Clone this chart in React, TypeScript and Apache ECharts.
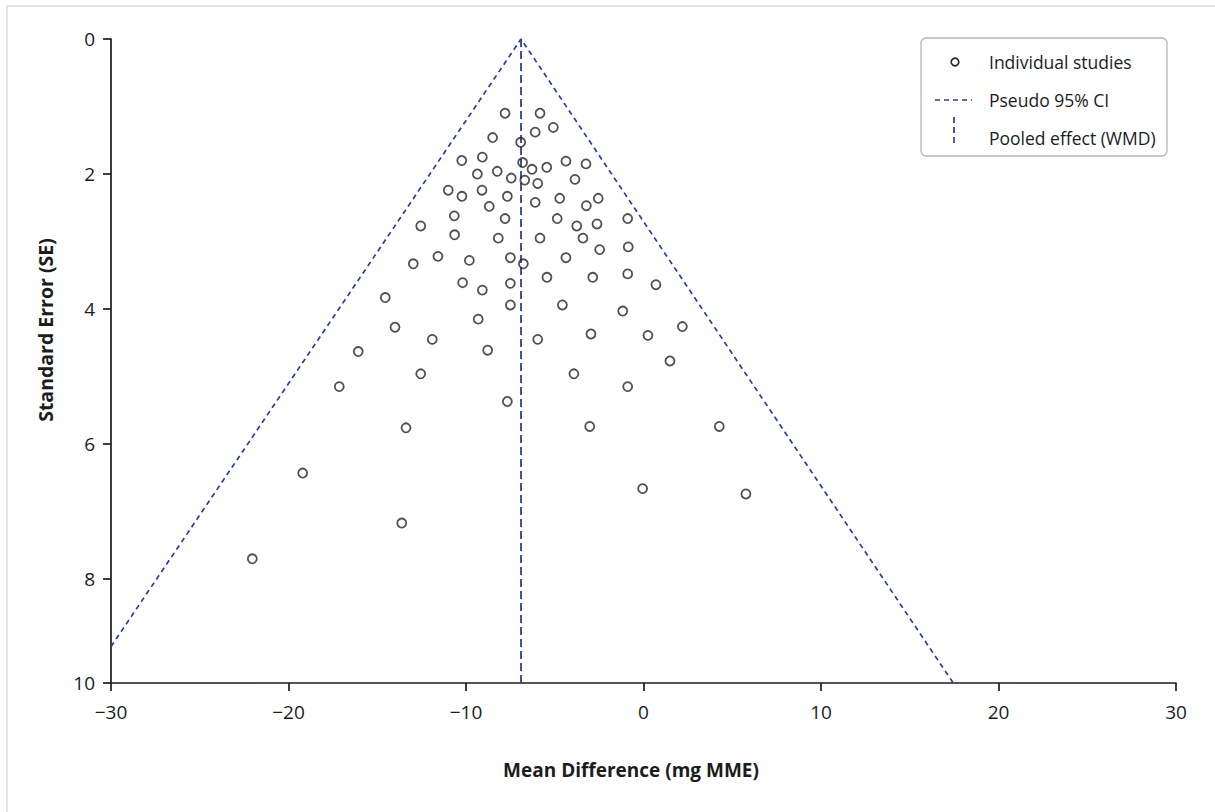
import React, { useEffect, useRef } from "react";
import * as echarts from "echarts";

// Individual studies: [mean difference (mg MME), standard error]
const studyMD = [
  -7.8, -5.83, -5.08, -6.1, -8.5, -6.92, -10.24, -9.08, -6.81, -6.28,
  -5.45, -4.37, -3.24, -9.36, -8.24, -7.45, -6.69, -5.96, -3.86, -11.0,
  -10.23, -9.1, -7.67, -6.1, -4.72, -2.55, -3.22, -8.69, -10.66, -7.8,
  -4.86, -3.76, -2.62, -0.89, -12.55, -10.64, -8.18, -5.83, -3.41, -2.47,
  -0.86, -12.97, -11.58, -9.81, -7.5, -6.77, -4.37, -5.44, -2.86, -0.89,
  0.7, -10.19, -9.08, -7.5, -14.55, -7.5, -4.57, -1.17, -14.0, -9.31,
  -2.96, 0.25, 2.19, -11.9, -5.96, -16.07, -8.78, 1.49, -3.92, -12.55,
  -17.14, -0.89, -7.67, -13.38, -3.03, 4.27, -19.2, -0.05, 5.77, -13.62,
  -22.04,
];
const studySE = [
  1.1, 1.1, 1.31, 1.38, 1.46, 1.53, 1.8, 1.75, 1.83, 1.93,
  1.9, 1.81, 1.85, 2.0, 1.96, 2.06, 2.09, 2.14, 2.08, 2.24,
  2.33, 2.24, 2.33, 2.42, 2.36, 2.36, 2.47, 2.48, 2.62, 2.66,
  2.66, 2.77, 2.74, 2.66, 2.77, 2.9, 2.95, 2.95, 2.95, 3.12,
  3.08, 3.33, 3.22, 3.28, 3.24, 3.33, 3.24, 3.53, 3.53, 3.48,
  3.64, 3.61, 3.72, 3.62, 3.83, 3.94, 3.94, 4.03, 4.27, 4.15,
  4.37, 4.39, 4.26, 4.45, 4.45, 4.63, 4.61, 4.77, 4.96, 4.96,
  5.15, 5.15, 5.37, 5.76, 5.74, 5.74, 6.43, 6.66, 6.74, 7.17,
  7.7,
];

// Pooled effect (WMD) and pseudo 95% CI funnel
const pooledMD = -6.9;
const ciLeft = [-30, 9.0];
const ciRight = [17.45, 9.54];

// Axis ticks
const xTicks = [-30, -20, -10, 0, 10, 20, 30];
const yTickValues = [0, 2, 4, 6, 8, 9.54];
const yTickLabels = ["0", "2", "4", "6", "8", "10"];
const yMax = 9.54;

const FONT = "Open Sans";
const BLUE = "#2f3c98";
const INK = "#1c1c1c";

export default function App() {
  const ref = useRef<HTMLDivElement>(null);

  useEffect(() => {
    if (!ref.current) return;
    const chart = echarts.init(ref.current, undefined, { renderer: "svg" });

    const points = studyMD.map((x, i) => [x, studySE[i]]);

    chart.setOption({
      animation: false,
      backgroundColor: "#ffffff",
      grid: { left: 111, top: 39, width: 1065, height: 644, containLabel: false },
      xAxis: {
        type: "value",
        min: -30,
        max: 30,
        interval: 10,
        splitLine: { show: false },
        axisLine: { show: true, onZero: false, lineStyle: { color: INK, width: 1.7 } },
        axisTick: { show: true, length: 8, lineStyle: { color: INK, width: 1.7 } },
        axisLabel: {
          show: true,
          margin: 19,
          fontFamily: FONT,
          fontSize: 19,
          color: INK,
          customValues: xTicks,
          formatter: (v: number) => String(v).replace("-", "\u2212"),
        },
      },
      yAxis: {
        type: "value",
        inverse: true,
        min: 0,
        max: yMax,
        splitLine: { show: false },
        axisLine: { show: true, onZero: false, lineStyle: { color: INK, width: 1.7 } },
        axisTick: {
          show: true,
          length: 8,
          customValues: yTickValues,
          lineStyle: { color: INK, width: 1.7 },
        },
        axisLabel: {
          show: true,
          margin: 16,
          fontFamily: FONT,
          fontSize: 19,
          color: INK,
          customValues: yTickValues,
          formatter: (v: number) => {
            const idx = yTickValues.findIndex((t) => Math.abs(t - v) < 1e-6);
            return idx >= 0 ? yTickLabels[idx] : "";
          },
        },
      },
      series: [
        {
          type: "line",
          data: [ciLeft, [pooledMD, 0], ciRight],
          symbol: "none",
          lineStyle: { color: BLUE, width: 1.7, type: [5, 4] },
          z: 2,
        },
        {
          type: "line",
          data: [
            [pooledMD, 0],
            [pooledMD, yMax],
          ],
          symbol: "none",
          lineStyle: { color: BLUE, width: 1.8, type: [8, 4] },
          z: 2,
        },
        {
          type: "scatter",
          data: points,
          symbol: "circle",
          symbolSize: 9,
          itemStyle: { color: "rgba(255,255,255,0)", borderColor: "#262626", borderWidth: 1.8 },
          z: 3,
        },
      ],
      graphic: [
        { type: "line", shape: { x1: 7, y1: 6, x2: 1215, y2: 6 }, style: { stroke: "#dcdcdc", lineWidth: 1.5 } },
        { type: "line", shape: { x1: 7, y1: 6, x2: 7, y2: 812 }, style: { stroke: "#dcdcdc", lineWidth: 1.5 } },
        {
          type: "rect",
          shape: { x: 921, y: 38, width: 246, height: 118, r: 5 },
          style: { fill: "#fff", stroke: "#b5b5b5", lineWidth: 1.3 },
          z: 10,
        },
        {
          type: "circle",
          shape: { cx: 955, cy: 62, r: 3.8 },
          style: { fill: "none", stroke: "#262626", lineWidth: 1.7 },
          z: 11,
        },
        {
          type: "line",
          shape: { x1: 935, y1: 100, x2: 972, y2: 100 },
          style: { stroke: BLUE, lineWidth: 1.7, lineDash: [5, 4] },
          z: 11,
        },
        {
          type: "line",
          shape: { x1: 954, y1: 117, x2: 954, y2: 146 },
          style: { stroke: BLUE, lineWidth: 1.7, lineDash: [6, 4] },
          z: 11,
        },
        {
          type: "text",
          x: 989,
          y: 62,
          style: { text: "Individual studies", fontFamily: FONT, fontSize: 17.5, fill: INK, verticalAlign: "middle" },
          z: 11,
        },
        {
          type: "text",
          x: 989,
          y: 100,
          style: { text: "Pseudo 95% CI", fontFamily: FONT, fontSize: 17.5, fill: INK, verticalAlign: "middle" },
          z: 11,
        },
        {
          type: "text",
          x: 989,
          y: 138,
          style: { text: "Pooled effect (WMD)", fontFamily: FONT, fontSize: 17.5, fill: INK, verticalAlign: "middle" },
          z: 11,
        },
        {
          type: "text",
          x: 631,
          y: 770,
          style: {
            text: "Mean Difference (mg MME)",
            fontFamily: FONT,
            fontSize: 19,
            fontWeight: "bold",
            fill: INK,
            align: "center",
            verticalAlign: "middle",
          },
        },
        {
          type: "text",
          x: 45,
          y: 330,
          rotation: Math.PI / 2,
          style: {
            text: "Standard Error (SE)",
            fontFamily: FONT,
            fontSize: 19.5,
            fontWeight: "bold",
            fill: INK,
            align: "center",
            verticalAlign: "middle",
          },
        },
      ],
    });

    return () => chart.dispose();
  }, []);

  return (
    <div
      ref={ref}
      style={{ position: "fixed", left: 0, top: 0, width: 1215, height: 812, background: "#fff" }}
    />
  );
}
